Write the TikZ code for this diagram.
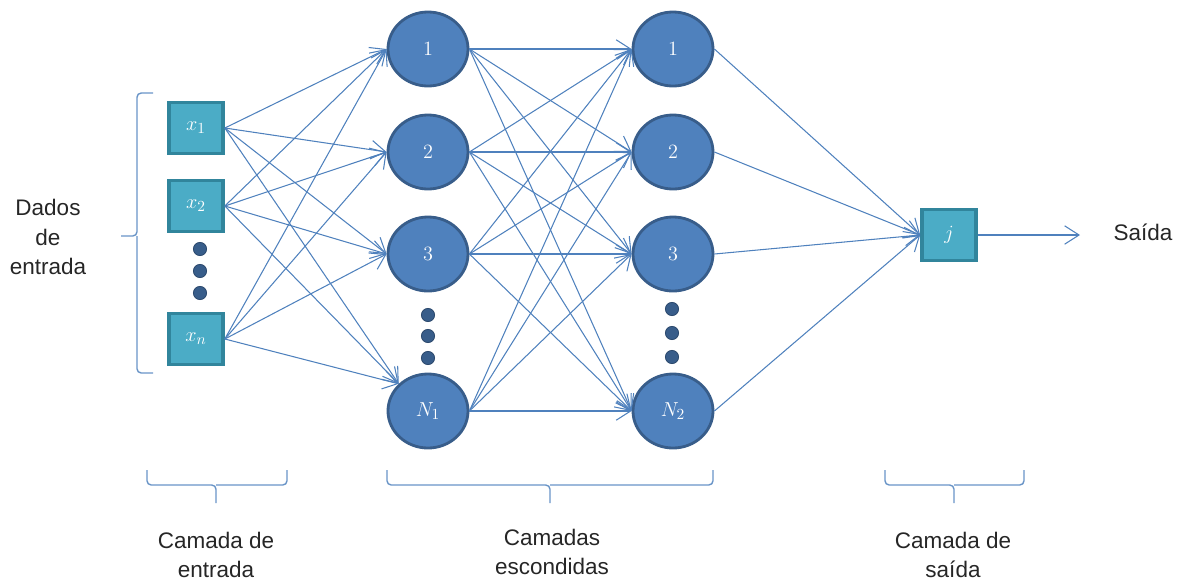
\documentclass[tikz,border=0pt]{standalone}
\usepackage{fontspec}
\setmainfont{Liberation Sans}
\usetikzlibrary{arrows.meta,shapes.geometric}
\definecolor{azulNo}{HTML}{4F81BD}
\definecolor{azulBorda}{HTML}{385D8A}
\definecolor{tealNo}{HTML}{4BACC6}
\definecolor{tealBorda}{HTML}{31859C}
\definecolor{texto}{HTML}{262626}

\begin{document}
\begin{tikzpicture}[x=0.025cm, y=-0.025cm,
	    entrada/.style={rectangle, draw=tealBorda, fill=tealNo, line width=2.6pt, minimum width=1.35cm, minimum height=1.27cm, inner sep=0pt, text=white, font=\fontsize{15}{17}\selectfont},
	    neuronio/.style={ellipse, draw=azulBorda, fill=azulNo, line width=2pt, minimum width=2.0cm, minimum height=1.85cm, inner sep=0pt, text=white, font=\fontsize{15}{17}\selectfont},
	    ponto/.style={circle, fill=azulBorda, draw=azulBorda!80!black, line width=0.6pt, minimum size=0.33cm, inner sep=0pt},
	    rotulo/.style={text=texto, align=center, font=\fontsize{16}{21}\selectfont},
	    line/.style={draw=azulNo, line width=0.75pt, -{Straight Barb[length=3.6mm,width=4.6mm]}},
	    chave/.style={draw=azulNo!85!white, line width=1pt, rounded corners=3pt}]

	    \useasboundingbox (0,0) rectangle (1185,581);

	    % camada de entrada
	    \node [entrada] (x1) at (196,128) {$x_1$};
	    \node [entrada] (x2) at (196,206) {$x_2$};
	    \node [entrada] (xn) at (196,339) {$x_n$};
	    \node [ponto] (p1) at (200,249) {};
	    \node [ponto] (p2) at (200,271) {};
	    \node [ponto] (p3) at (200,293) {};

	    % camadas escondidas
	    \node [neuronio] (a1) at (428,49) {$1$};
	    \node [neuronio] (a2) at (428,152) {$2$};
	    \node [neuronio] (a3) at (428,254) {$3$};
	    \node [neuronio] (aN) at (428,411) {$N_1$};
	    \node [ponto] (q1) at (428,315) {};
	    \node [ponto] (q2) at (428,336) {};
	    \node [ponto] (q3) at (428,358) {};

	    \node [neuronio] (b1) at (673,49) {$1$};
	    \node [neuronio] (b2) at (673,152) {$2$};
	    \node [neuronio] (b3) at (673,254) {$3$};
	    \node [neuronio] (bN) at (673,411) {$N_2$};
	    \node [ponto] (r1) at (672,309) {};
	    \node [ponto] (r2) at (672,333) {};
	    \node [ponto] (r3) at (672,357) {};

	    % camada de saida
	    \node [entrada] (j) at (949,235) {$j$};
	    \coordinate (fim) at (1080,235);
	    \node [rotulo] (saida) at (1143,232) {Saída};

	    % ligacoes
	    \foreach \i in {x1,x2,xn} {
	        \foreach \k in {a1,a2,a3}
	            \path [line] (\i.east) -- (\k.west);
	        \path [line] (\i.east) -- (aN.north west);
	    }
	    \foreach \i in {a1,a2,a3,aN}
	        \foreach \k in {b1,b2,b3,bN}
	            \path [line] (\i.east) -- (\k.west);
	    \foreach \i in {b1,b2,b3,bN}
	        \path [line] (\i.east) -- (j.west);
	    \path [line] (j.east) -- (fim);

	    % chaves e rotulos
	    \node [rotulo] (dados) at (48,237) {Dados\\de\\entrada};
	    \draw [chave] (153,93) -| (137,236) -- (121,236);
	    \draw [chave] (153,373) -| (137,236);
	    \draw [chave] (147,470) |- (216,485) -- (216,503);
	    \draw [chave] (287,470) |- (216,485);
	    \draw [chave] (387,470) |- (550,485) -- (550,503);
	    \draw [chave] (713,470) |- (550,485);
	    \draw [chave] (885,470) |- (954,485) -- (954,503);
	    \draw [chave] (1024,470) |- (954,485);
	    \node [rotulo] (c1) at (216,555) {Camada de\\entrada};
	    \node [rotulo] (c2) at (552,552) {Camadas\\escondidas};
	    \node [rotulo] (c3) at (953,555) {Camada de\\saída};
	\end{tikzpicture}
\end{document}
